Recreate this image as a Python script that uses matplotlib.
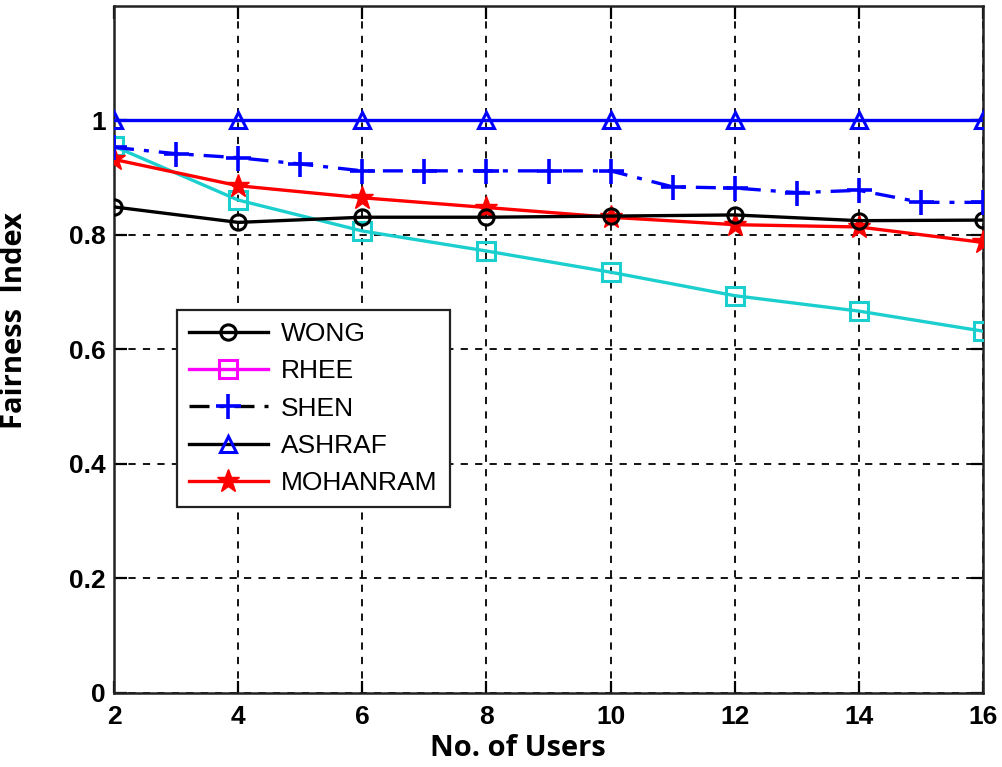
import matplotlib
matplotlib.use("Agg")
import matplotlib.pyplot as plt
from matplotlib.lines import Line2D
from matplotlib.ticker import FixedLocator, FixedFormatter

# ---- data ----
users_even = [2, 4, 6, 8, 10, 12, 14, 16]
users_all = list(range(2, 17))

wong = [0.849, 0.822, 0.831, 0.831, 0.833, 0.835, 0.825, 0.826]
rhee = [0.955, 0.861, 0.807, 0.772, 0.735, 0.694, 0.667, 0.632]
shen = [0.953, 0.942, 0.935, 0.924, 0.912, 0.912, 0.912, 0.912,
        0.912, 0.884, 0.882, 0.874, 0.878, 0.857, 0.857]
ashraf = [1.0, 1.0, 1.0, 1.0, 1.0, 1.0, 1.0, 1.0]
mohanram = [0.932, 0.886, 0.865, 0.848, 0.831, 0.818, 0.814, 0.787]

series_names = ["WONG", "RHEE", "SHEN", "ASHRAF", "MOHANRAM"]
y_ticks = [0, 0.2, 0.4, 0.6, 0.8, 1.0]
y_tick_labels = ["0", "0.2", "0.4", "0.6", "0.8", "1"]
x_ticks = [2, 4, 6, 8, 10, 12, 14, 16]

CYAN = "#1ccfcf"

fig = plt.figure(figsize=(10.02, 7.67), dpi=100)
ax = fig.add_axes([0.1138, 0.0965, 0.8673, 0.8957])

lw = 2.4
ax.plot(users_even, wong, color="black", lw=lw, marker="o", ms=11,
        mfc="none", mew=2.2, zorder=4)
ax.plot(users_even, rhee, color=CYAN, lw=lw, marker="s", ms=13,
        mfc="none", mew=2.2, zorder=3)
ax.plot(users_all, shen, color="#0000ff", lw=lw, ls=(0, (6, 3, 1.5, 3)),
        marker="+", ms=18, mew=2.6, zorder=4)
ax.plot(users_even, ashraf, color="#0000ff", lw=lw, marker="^", ms=12,
        mfc="none", mew=2.2, zorder=4)
ax.plot(users_even, mohanram, color="#ff0000", lw=lw, marker="*", ms=17,
        mfc="#ff0000", mec="#ff0000", zorder=3)

ax.set_xlim(2, 16)
ax.set_ylim(0, 1.2)
ax.xaxis.set_major_locator(FixedLocator(x_ticks))
ax.yaxis.set_major_locator(FixedLocator(y_ticks))
ax.yaxis.set_major_formatter(FixedFormatter(y_tick_labels))

ax.grid(True, color="black", ls=(0, (4, 4)), lw=1.3)
ax.set_axisbelow(True)
ax.tick_params(direction="in", length=9, width=1.6, top=True, right=True,
               labelsize=19)
ax.tick_params(axis="x", pad=9)
ax.tick_params(axis="y", pad=6)
for lab in ax.get_xticklabels() + ax.get_yticklabels():
    lab.set_fontfamily("Liberation Sans")
    lab.set_fontweight("bold")
for sp in ax.spines.values():
    sp.set_linewidth(1.8)
    sp.set_color("#222222")

ax.set_xlabel("No. of Users", fontfamily="Open Sans", fontweight="bold",
              fontsize=21)
ax.set_ylabel("Fairness  Index", fontfamily="Open Sans", fontweight="bold",
              fontsize=21)
ax.xaxis.set_label_coords(0.465, -0.06)
ax.yaxis.set_label_coords(-0.098, 0.542)

# legend entries
handles = [
    Line2D([], [], color="black", lw=lw, marker="o", ms=11, mfc="none", mew=2.2),
    Line2D([], [], color="#ff00ff", lw=lw, marker="s", ms=13, mfc="none", mew=2.2),
    Line2D([], [], color="black", lw=lw, ls=(0, (6, 3, 1.5, 3)), marker="+",
           ms=18, mew=2.6, mec="#0000ff"),
    Line2D([], [], color="black", lw=lw, marker="^", ms=12, mfc="none",
           mew=2.2, mec="#0000ff"),
    Line2D([], [], color="#ff0000", lw=lw, marker="*", ms=17, mfc="#ff0000",
           mec="#ff0000"),
]
leg = ax.legend(handles, series_names, loc="upper left",
                bbox_to_anchor=(0.0725, 0.557), frameon=True, fancybox=False,
                edgecolor="#222222", framealpha=1, handlelength=3.0,
                handletextpad=0.5, borderpad=0.45, labelspacing=0.5,
                borderaxespad=0.0,
                prop={"family": "Liberation Sans", "size": 19})
leg.get_frame().set_linewidth(1.6)

fig.savefig("out.png", dpi=100, facecolor="white")
